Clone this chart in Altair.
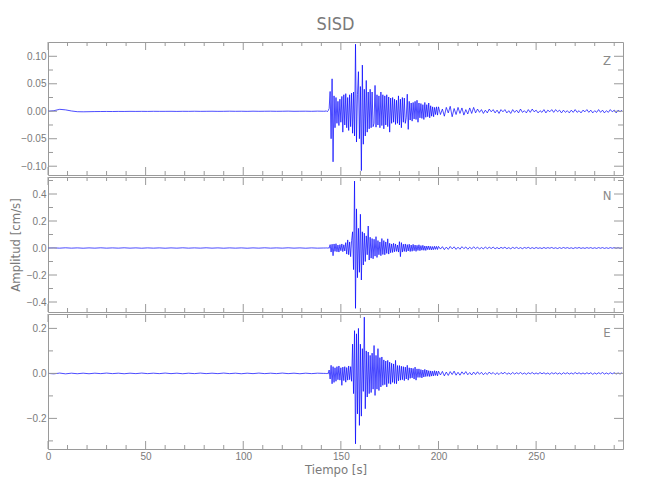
import altair as alt
import numpy as np
import pandas as pd

# ---------------- sampling grid of the traces (s) ----------------
PRE_STEP = 3.0          # 0 .. 141 s
ACT_START, ACT_STEP = 142.0, 0.5   # 142 .. 199.5 s
TAIL_START, TAIL_STEP = 200.0, 1.0 # 200 .. 294 s
T_MAX = 294.5

# ---------------- amplitudes, in 1e-3 cm/s ----------------
Z_PRE = [0, 1, 3.5, 2.5, 0.5, -0.8, -1, -0.8, -0.6, -0.5, -0.4, -0.5,
         -0.3, -0.4, -0.2, -0.3, -0.2, -0.3, -0.1, -0.2, -0.2, -0.1, -0.3, -0.1,
         -0.2, 0, -0.2, -0.1, 0, -0.2, -0.1, 0.1, -0.1, 0, -0.2, 0.1,
         -0.1, 0, 0.1, -0.1, 0, 0.2, -0.1, 0, 0.1, -0.1, 0.2, 0]
Z_ACT = [0, 1, -1, 1, 5, 36, -50, 59, -92, 28,
         -30, 25, -22, 18, -26, 22, -20, 27, -38, 30,
         -25, 32, -30, 25, -35, 30, -28, 33, -40, 35,
         -45, 122, -56, 30, 72, -50, 45, -108, 84, -60,
         40, -45, 56, -38, 35, -32, 40, -30, 35, -28,
         -22, 47, -29, 30, -25, 28, -30, 35, -26, 30,
         -32, 28, -25, 30, -28, 26, -38, 24, -22, 25,
         -20, 22, -24, 20, -22, 28, -25, 22, -30, 25,
         -20, 24, -22, -12, 31, -33, 18, -16, 15, -18,
         16, -14, 18, -15, 20, -20, 15, -12, 14, -13,
         12, -15, 16, -11, 12, -10, 15, -12, 10, -9,
         8, -10, 7, -6, 8, -7]
Z_TAIL = [8, -6, 4, -9, 7, -3, 9, -10, 5, -6,
          7, -4, 6, -7, 3, -5, 6, -4, 7, -3,
          4, -2, 3, -4, 2, -3, 4, -1, 3, -3,
          2, -4, 3, -1, 3, -3, 1, -4, 3, -2,
          2, -3, 4, -2, 1, -3, 3, -2, 4, -1,
          2, -3, 1, -2, 3, -3, 2, -1, 3, -2,
          3, -1, 2, -3, 2, -2, 1, -3, 2, -2,
          3, -2, 1, -3, 2, -1, 3, -2, 2, -3,
          1, -2, 3, -2, 2, -3, 1, -2, 3, -1,
          2, -3, 2, -1, 2]

N_PRE = [0, 1, -1, 1.5, -1, 1, -1.5, 1, -1, 1.5, -1, 1,
         -1, 1.5, -1, 1, -1.5, 1, -1, 1, -1.5, 1, -1, 1.5,
         -1, 1, -1, 1.5, -1, 1, -1.5, 1, -1, 1, -1.5, 1,
         -1, 1.5, -1, 1, -1, 1.5, -1, 1, -1.5, 1, -1, 0]
N_ACT = [0, 1, -1, 2, -2, 25, -30, 28, -57, 30,
         -25, 32, -28, 22, -30, 25, -20, 30, -27, 24,
         -22, 40, -45, 60, -50, 45, -64, 55, 120, -160,
         496, -447, 290, -220, 146, -180, 250, -237, 120, -126,
         110, -100, 90, -50, 163, -89, 80, -75, 70, -80,
         65, -60, 84, -70, 55, -50, 45, -57, 70, -48,
         55, -50, 45, -40, 68, -45, 35, -35, 30, -33,
         35, -28, 30, -25, 22, -30, 47, -64, 40, -30,
         28, -25, 30, -28, 25, -22, 28, -26, 22, -24,
         27, -20, 22, -25, 20, -18, 24, -20, 18, -16,
         20, -17, 15, -18, 14, -12, 15, -13, 12, -14,
         11, -12, 13, -10, 12, -11]
N_TAIL = [12, -8, 10, -12, 7, -10, 11, -6, 9, -10,
          6, -9, 10, -5, 8, -9, 6, -7, 9, -5,
          7, -8, 4, -7, 8, -5, 6, -4, 7, -6,
          4, -6, 5, -3, 6, -5, 3, -6, 5, -3,
          5, -4, 3, -5, 4, -2, 5, -4, 3, -4,
          4, -3, 2, -4, 4, -3, 3, -2, 4, -3,
          2, -4, 3, -3, 4, -2, 3, -3, 2, -4,
          3, -2, 4, -3, 2, -3, 3, -2, 3, -3,
          2, -3, 3, -2, 3, -3, 2, -3, 3, -2,
          3, -2, 3, -3, 2]

E_PRE = [0, -2, 1.5, -2, 1, -1.5, 1, -1.5, 1, -1, 1.5, -1,
         1, -1.5, 1, -1, 1.5, -1, 1, -1, 1.5, -1, 1, -1.5,
         1, -1, 1.5, -1, 1, -1, 1.5, -1, 1, -1.5, 1, -1,
         1.5, -1, 1, -1, 1.5, -1, 1, -1.5, 1, -1, 1, 0]
E_ACT = [0, -1, 1, -2, 15, -25, 36, -46, 30, -40,
         25, -35, 30, -28, 33, -30, 25, -53, 28, -32,
         30, -39, 26, -30, 33, -28, 30, -35, 130, -90,
         190, -313, 176, -180, 200, -231, 130, -190, 110, -80,
         250, -157, 100, -105, 95, -90, 80, -85, 90, -70,
         124, -98, 80, -70, 110, -76, 70, -60, 73, -53,
         60, -50, 55, -60, 58, -45, 50, -48, 45, -40,
         42, -45, 58, -46, 35, -33, 35, -30, 32, -28,
         30, -32, 28, -25, 36, -30, 25, -22, 24, -20,
         22, -25, 28, -30, 20, -18, 20, -18, 17, -20,
         15, -16, 18, -14, 15, -13, 12, -14, 11, -12,
         10, -11, 12, -9, 10, -11]
E_TAIL = [10, -7, 9, -11, 6, -9, 8, -5, 10, -8,
          5, -8, 7, -4, 8, -6, 4, -7, 6, -5,
          7, -4, 5, -6, 3, -5, 6, -3, 4, -5,
          3, -5, 4, -2, 5, -4, 2, -4, 4, -3,
          3, -2, 4, -3, 2, -4, 3, -2, 4, -3,
          2, -3, 4, -2, 3, -3, 2, -4, 3, -2,
          3, -3, 2, -4, 3, -2, 3, -3, 2, -3,
          4, -2, 3, -3, 2, -3, 3, -2, 3, -4,
          2, -3, 3, -2, 4, -3, 2, -3, 3, -2,
          3, -3, 2, -3, 3]

COMPONENTS = ["Z", "N", "E"]
Y_DOMAINS = [[-0.116, 0.126], [-0.474, 0.526], [-0.336, 0.264]]
Y_MAJOR = [[-0.10, -0.05, 0.0, 0.05, 0.10], [-0.4, -0.2, 0.0, 0.2, 0.4], [-0.2, 0.0, 0.2]]
Y_MINOR = [[-0.075, -0.025, 0.025, 0.075], [-0.3, -0.1, 0.1, 0.3, 0.5], [-0.3, -0.1, 0.1]]
Y_FORMATS = [".2f", ".1f", ".1f"]
X_MAJOR = [0, 50, 100, 150, 200, 250]
X_MINOR = [10, 20, 30, 40, 60, 70, 80, 90, 110, 120, 130, 140, 160, 170, 180, 190,
           210, 220, 230, 240, 260, 270, 280, 290]

TITLE = "SISD"
X_TITLE = "Tiempo [s]"
Y_TITLE = "Amplitud [cm/s]"

# ---------------- styling ----------------
W = 575
HEIGHTS = [133, 135, 135]
AX = "#9a9a9a"
TXT = "#7a7a7a"
FONT = "Liberation Sans Narrow, DejaVu Sans Condensed, Liberation Sans, sans-serif"
LABEL_FONT = "Liberation Sans, sans-serif"


def build(pre, act, tail):
    t = np.concatenate([
        np.arange(len(pre)) * PRE_STEP,
        ACT_START + np.arange(len(act)) * ACT_STEP,
        TAIL_START + np.arange(len(tail)) * TAIL_STEP,
    ])
    v = np.array(list(pre) + list(act) + list(tail), dtype=float) / 1000.0
    return pd.DataFrame({"t": t, "v": v})


TRACES = [build(Z_PRE, Z_ACT, Z_TAIL), build(N_PRE, N_ACT, N_TAIL), build(E_PRE, E_ACT, E_TAIL)]


def panel(i):
    h = HEIGHTS[i]
    bottom = i == 2
    xscale = alt.Scale(domain=[0, T_MAX], nice=False, zero=False)
    yscale = alt.Scale(domain=Y_DOMAINS[i], nice=False, zero=False)
    if bottom:
        xaxis = alt.Axis(values=X_MAJOR, format="d", ticks=False, domain=False, grid=False,
                         labelFlush=False, labelPadding=2, title=X_TITLE, titlePadding=2,
                         labelOverlap=False)
    else:
        xaxis = None
    yaxis = alt.Axis(values=Y_MAJOR[i], format=Y_FORMATS[i], ticks=False, domain=False,
                     grid=False, labelPadding=2, labelOverlap=False,
                     title=Y_TITLE if i == 1 else None, titlePadding=4)
    X = alt.X("t:Q", scale=xscale, axis=xaxis)
    Y = alt.Y("v:Q", scale=yscale, axis=yaxis)

    line = alt.Chart(TRACES[i]).mark_line(color="#0000ff", strokeWidth=0.7, clip=True).encode(x=X, y=Y)

    layers = [line]
    for vals, ln in ((X_MAJOR, 8), (X_MINOR, 4)):
        d = pd.DataFrame({"t": vals})
        layers.append(alt.Chart(d).mark_rule(color=AX, strokeWidth=1).encode(
            x=X, y=alt.value(0), y2=alt.value(ln)))
        layers.append(alt.Chart(d).mark_rule(color=AX, strokeWidth=1).encode(
            x=X, y=alt.value(h), y2=alt.value(h - ln)))
    for vals, ln in ((Y_MAJOR[i], 9), (Y_MINOR[i], 5)):
        d = pd.DataFrame({"v": vals})
        layers.append(alt.Chart(d).mark_rule(color=AX, strokeWidth=1).encode(
            y=Y, x=alt.value(0), x2=alt.value(ln)))
        layers.append(alt.Chart(d).mark_rule(color=AX, strokeWidth=1).encode(
            y=Y, x=alt.value(W), x2=alt.value(W - ln)))
    lab = alt.Chart(pd.DataFrame({"c": [COMPONENTS[i]]})).mark_text(
        font=FONT, fontSize=13, color="#8a8a8a", align="center", baseline="middle").encode(
        text="c:N", x=alt.value(W - 16), y=alt.value(19))
    layers.append(lab)

    props = dict(width=W, height=h)
    if i == 0:
        props["title"] = alt.TitleParams(text=TITLE, anchor="middle", frame="group", fontSize=18,
                                         font=FONT, color=TXT, fontWeight="normal", offset=8)
    return alt.layer(*layers).properties(**props)


chart = alt.vconcat(panel(0), panel(1), panel(2), spacing=0).properties(
    padding={"left": 0, "top": 7, "right": 5, "bottom": 5}
).configure_view(stroke=AX, strokeWidth=1).configure_axis(
    labelFont=LABEL_FONT, labelFontSize=10, labelColor=TXT,
    titleFont=FONT, titleFontSize=13, titleColor=TXT, titleFontWeight="normal"
)

chart.save("out.html", embed_options={"renderer": "svg", "actions": False})
